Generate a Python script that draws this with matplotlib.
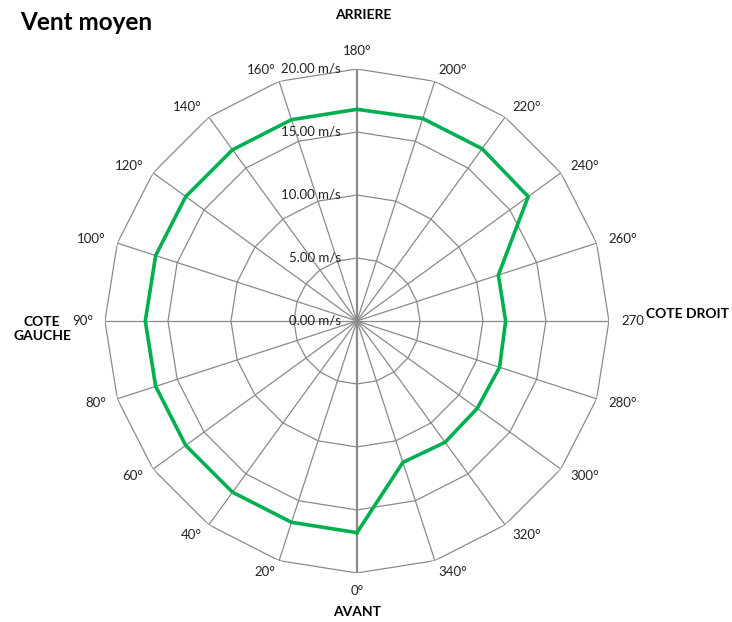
import matplotlib.pyplot as plt
import numpy as np

plt.rcParams['font.family'] = ['Lato', 'DejaVu Sans']

# wind direction categories (clockwise from the front) and mean wind speed in m/s
directions = ['0°', '20°', '40°', '60°', '80°', '90°', '100°', '120°', '140°', '160°',
              '180°', '200°', '220°', '240°', '260°', '270', '280°', '300°', '320°', '340°']
speeds = [16.8, 16.8, 16.8, 16.8, 16.8, 16.8, 16.8, 16.8, 16.8, 16.8,
          16.8, 16.9, 16.9, 16.8, 11.8, 11.8, 11.9, 11.8, 11.9, 11.8]
rings = [0, 5, 10, 15, 20]
ring_labels = ['0.00 m/s', '5.00 m/s', '10.00 m/s', '15.00 m/s', '20.00 m/s']

grid_col = '#8a8a8a'
green = '#00b050'

fig = plt.figure(figsize=(7.32, 6.22), dpi=100)
ax = fig.add_axes([0.1434, 0.0788, 0.6885, 0.8103], projection='polar')
ax.set_theta_zero_location('S')
ax.set_theta_direction(-1)
ax.set_ylim(0, 20)
ax.grid(False)
ax.spines['polar'].set_visible(False)
ax.set_xticks([])
ax.set_yticks([])
ax.patch.set_alpha(0)

n = len(directions)
theta = np.arange(n) * 2 * np.pi / n
closed = np.append(theta, theta[0])

# polygon rings
for r in rings[1:]:
    ax.plot(closed, [r] * (n + 1), color=grid_col, lw=0.9, zorder=1)

# spokes
for i, t in enumerate(theta):
    if i in (0, 10):
        continue
    ax.plot([t, t], [0, rings[-1]], color=grid_col, lw=0.9, zorder=1)
# value axis (vertical)
ax.plot([theta[0], theta[0]], [0, rings[-1]], color=grid_col, lw=1.6, zorder=2)
ax.plot([theta[10], theta[10]], [0, rings[-1]], color=grid_col, lw=1.6, zorder=2)

# data line
ax.plot(closed, speeds + [speeds[0]], color=green, lw=2.6, zorder=3)

# direction labels
for t, lab in zip(theta, directions):
    ux, uy = -np.sin(t), -np.cos(t)
    ha = 'center' if abs(ux) < 0.01 else ('right' if ux < 0 else 'left')
    va = 'center'
    if uy > 0.99:
        va = 'bottom'
    elif uy < -0.99:
        va = 'top'
    ax.annotate(lab, (t, rings[-1]), xytext=(12 * ux, 12 * uy), textcoords='offset pixels',
                ha=ha, va=va, fontsize=9.5, color='#222222', annotation_clip=False)

# ring value labels
for r, lab in zip(rings, ring_labels):
    ax.annotate(lab, (theta[10], r), xytext=(-16, 0), textcoords='offset pixels',
                ha='right', va='center', fontsize=9.5, color='#222222', annotation_clip=False)

fig.text(0.027, 1 - 23 / 622, 'Vent moyen', ha='left', va='center', fontsize=17.5, fontweight='bold')
fig.text(363 / 732, 1 - 15 / 622, 'ARRIERE', ha='center', va='center', fontsize=10, fontweight='bold')
fig.text(357 / 732, 1 - 612 / 622, 'AVANT', ha='center', va='center', fontsize=10, fontweight='bold')
fig.text(688 / 732, 1 - 314 / 622, 'COTE DROIT', ha='center', va='center', fontsize=10, fontweight='bold',
         bbox=dict(facecolor='white', edgecolor='none', pad=0.5))
fig.text(42 / 732, 1 - 329 / 622, 'COTE\nGAUCHE', ha='center', va='center', fontsize=10, fontweight='bold',
         linespacing=1.3)

fig.savefig('out.png', dpi=100)
